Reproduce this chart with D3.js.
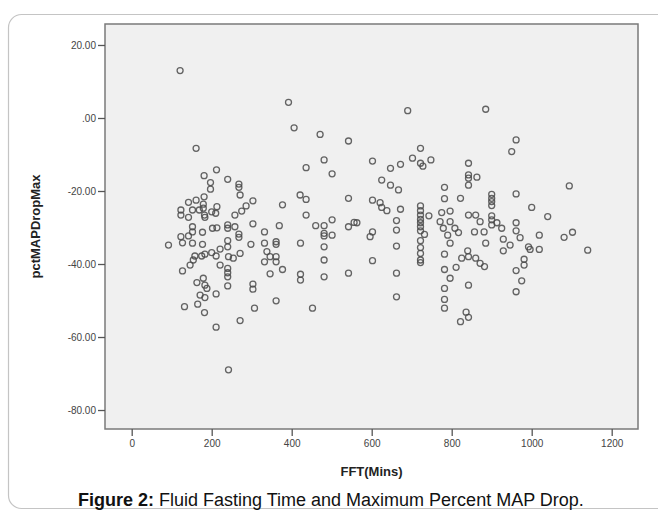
<!DOCTYPE html>
<html>
<head>
<meta charset="utf-8">
<script src="https://cdn.jsdelivr.net/npm/d3@7"></script>
<style>
  body { margin: 0; background: #fff; }
  svg { display: block; font-family: "Liberation Sans", Arial, sans-serif; }
</style>
</head>
<body>
<div id="chart"></div>
<script>
// FFT (minutes) vs pctMAPDropMax
var fftMins = [
  121,161,212,181,197,197,181,142,161,179,179,213,123,123,142,152,169,182,183,200,
  210,152,152,177,202,213,123,142,127,152,92,177,221,158,175,183,200,211,154,146,
  127,221,163,179,183,188,171,183,211,132,165,182,211,242,
  392,406,471,542,481,436,501,240,268,268,271,303,377,421,436,542,436,286,275,258,
  240,240,258,268,268,303,369,332,460,481,501,542,556,481,481,501,240,240,298,332,
  338,361,361,422,481,242,254,271,332,346,361,361,481,240,240,240,240,346,377,422,
  422,481,542,303,303,361,307,452,271,
  690,885,722,702,722,728,748,672,647,602,842,842,842,842,863,625,647,667,782,782,
  822,602,621,625,638,672,722,722,722,722,722,722,722,743,662,662,563,602,596,775,
  796,771,796,779,808,817,732,842,860,871,857,881,885,790,796,722,722,722,722,722,
  662,782,825,840,842,860,871,882,602,782,811,796,662,782,842,662,782,782,836,842,822,
  961,950,1094,900,900,900,900,961,1000,1040,900,900,913,925,900,961,961,971,929,946,
  929,992,996,1019,1019,1081,1102,1140,981,981,961,975,961
];
var pctMapDrop = [
  13.0,-8.3,-14.2,-15.8,-17.7,-19.5,-21.6,-23.1,-22.5,-23.6,-24.7,-24.3,-25.2,-26.6,-27.2,-25.2,-25.2,-26.6,-27.2,-25.7,
  -26.1,-29.8,-31.2,-31.3,-30.2,-30.1,-32.5,-32.3,-34.2,-34.3,-34.8,-34.6,-35.9,-37.8,-37.8,-37.3,-36.9,-37.8,-38.9,-40.3,
  -41.9,-40.3,-45.1,-43.9,-45.8,-46.7,-48.5,-49.2,-48.2,-51.7,-51.0,-53.3,-57.3,-69.0,
  4.3,-2.7,-4.5,-6.3,-11.5,-13.6,-15.3,-16.8,-18.1,-19.0,-21.1,-22.7,-23.8,-21.1,-22.3,-22.0,-26.6,-24.1,-25.5,-26.6,
  -29.3,-30.2,-29.8,-31.8,-32.7,-29.0,-29.5,-31.2,-29.5,-29.5,-27.9,-29.8,-28.6,-31.6,-32.3,-32.1,-33.6,-35.3,-34.6,-34.3,
  -36.6,-33.9,-34.6,-34.3,-35.3,-38.0,-38.4,-37.1,-39.4,-38.0,-38.0,-39.4,-38.9,-41.2,-42.4,-43.5,-46.0,-42.7,-41.5,-42.8,
  -44.4,-43.5,-42.5,-45.5,-46.9,-50.1,-52.1,-52.1,-55.5,
  2.0,2.4,-8.3,-11.0,-12.4,-13.2,-11.5,-12.7,-13.8,-11.8,-12.4,-15.6,-16.5,-18.4,-16.2,-17.0,-18.4,-19.7,-19.0,-22.1,
  -22.0,-22.5,-23.2,-24.5,-25.4,-25.0,-24.1,-25.4,-26.6,-27.8,-28.7,-29.8,-30.9,-26.8,-28.1,-30.7,-28.7,-31.2,-32.5,-25.9,
  -25.5,-28.4,-28.4,-30.2,-30.2,-31.4,-31.9,-26.6,-26.6,-28.4,-31.2,-31.2,-34.3,-32.1,-34.3,-33.6,-35.5,-37.1,-38.9,-39.6,
  -35.1,-37.3,-38.4,-36.4,-38.0,-38.4,-39.8,-40.7,-39.1,-41.5,-40.9,-43.9,-42.5,-46.7,-45.8,-49.0,-49.7,-52.1,-53.2,-54.6,-55.8,
  -6.0,-9.2,-18.6,-20.9,-22.0,-22.9,-24.0,-20.8,-24.5,-27.0,-26.8,-27.9,-28.7,-30.2,-29.3,-28.7,-30.9,-32.8,-33.2,-34.8,
  -36.4,-35.3,-36.0,-32.1,-36.0,-32.7,-31.3,-36.2,-38.7,-40.3,-41.8,-44.6,-47.6
];
var xTicks = [0, 200, 400, 600, 800, 1000, 1200];
var yTicks = [20, 0, -20, -40, -60, -80];

var W = 658, H = 512;
var plot = {left: 105, right: 638, top: 24, bottom: 429};

var svg = d3.select('#chart').append('svg')
    .attr('width', W)
    .attr('height', H);

// outer rounded frame (runs off the right edge)
svg.append('rect')
    .attr('x', 8.5).attr('y', 14.5)
    .attr('width', 720).attr('height', 494)
    .attr('rx', 13)
    .attr('fill', 'none')
    .attr('stroke', '#c4c4c4')
    .attr('stroke-width', 1.2);

var x = d3.scaleLinear()
    .domain([-66.75, 1265.75])
    .range([plot.left, plot.right]);

var y = d3.scaleLinear()
    .domain([25.75, -85.2])
    .range([plot.top, plot.bottom]);

svg.append('rect')
    .attr('x', plot.left).attr('y', plot.top)
    .attr('width', plot.right - plot.left)
    .attr('height', plot.bottom - plot.top)
    .attr('fill', '#f0f0f0')
    .attr('stroke', '#7a7a7a')
    .attr('stroke-width', 1.5);

// SPSS style: ".00", "-20.00" with a plain hyphen
function fmtY(d) {
    if (d === 0) return '.00';
    return d.toFixed(2);
}

var yAxis = svg.append('g')
    .attr('class', 'left-axis')
    .attr('transform', 'translate(' + plot.left + ',0)')
    .call(d3.axisLeft(y).tickValues(yTicks).tickFormat(fmtY).tickSize(7).tickPadding(2));

var xAxis = svg.append('g')
    .attr('class', 'bottom-axis')
    .attr('transform', 'translate(0,' + plot.bottom + ')')
    .call(d3.axisBottom(x).tickValues(xTicks).tickFormat(d3.format('d')).tickSize(7).tickPadding(4));

[yAxis, xAxis].forEach(function(g) {
    g.select('.domain').remove();
    g.selectAll('.tick line').attr('stroke', '#555').attr('stroke-width', 1.3);
    g.selectAll('.tick text')
        .attr('fill', '#444')
        .style('font-size', '10px')
        .style('font-family', '"Liberation Sans", Arial, sans-serif');
});

svg.append('g')
    .selectAll('circle')
    .data(fftMins.map(function(d, i) { return [d, pctMapDrop[i]]; }))
    .enter().append('circle')
    .attr('cx', function(d) { return x(d[0]); })
    .attr('cy', function(d) { return y(d[1]); })
    .attr('r', 3)
    .attr('fill', 'none')
    .attr('stroke', '#4a4a4a')
    .attr('stroke-opacity', 0.85)
    .attr('stroke-width', 1.3);

svg.append('text')
    .attr('transform', 'translate(40,' + ((plot.top + plot.bottom) / 2) + ') rotate(-90)')
    .attr('text-anchor', 'middle')
    .attr('font-weight', 'bold')
    .attr('font-size', 13)
    .attr('fill', '#222')
    .text('pctMAPDropMax');

svg.append('text')
    .attr('x', (plot.left + plot.right) / 2)
    .attr('y', 476)
    .attr('text-anchor', 'middle')
    .attr('font-weight', 'bold')
    .attr('font-size', 13)
    .attr('fill', '#222')
    .text('FFT(Mins)');

var cap = svg.append('text')
    .attr('x', 78)
    .attr('y', 506)
    .attr('font-size', 18)
    .attr('fill', '#111');
cap.append('tspan').attr('font-weight', 'bold').text('Figure 2:');
cap.append('tspan').text(' Fluid Fasting Time and Maximum Percent MAP Drop.');
</script>
</body>
</html>
